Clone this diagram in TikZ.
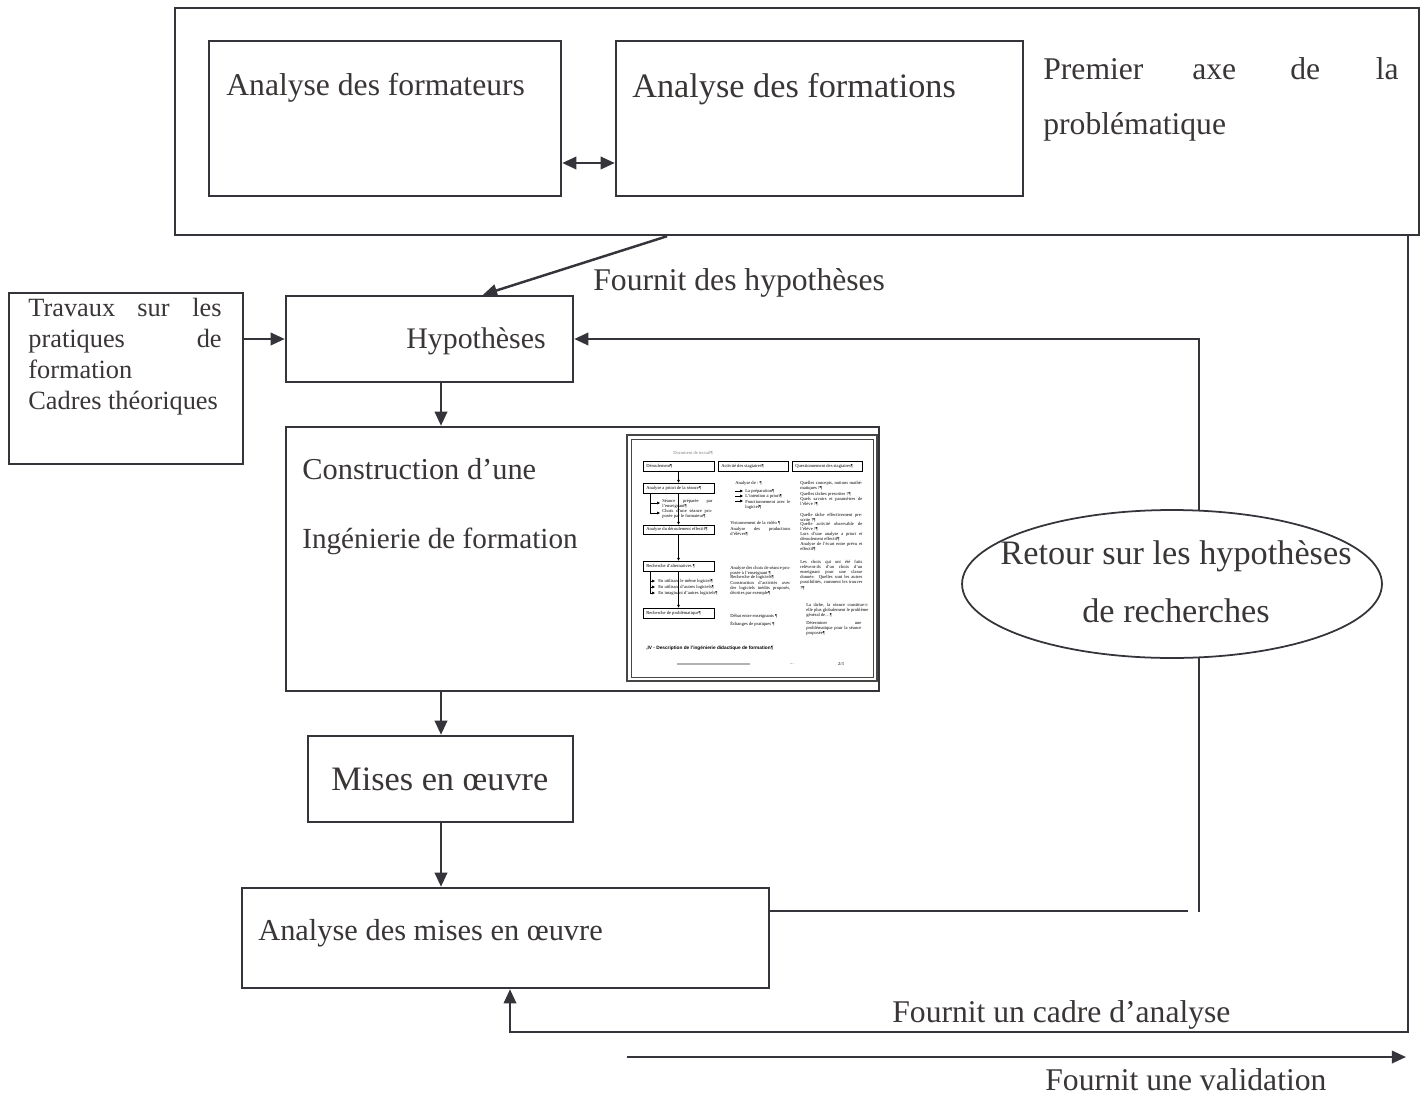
\documentclass[tikz,border=0pt]{standalone}
\usepackage{fontspec}
\setmainfont{Liberation Serif}
\newfontfamily\thsans{Liberation Sans}
\usetikzlibrary{arrows.meta,fit,shapes.geometric}
\definecolor{linec}{RGB}{52,52,58}
\definecolor{textc}{RGB}{58,54,54}
\definecolor{thumbline}{RGB}{70,70,70}
\tikzset{
  box/.style={draw=linec,line width=1.4pt,inner sep=0pt},
  arr/.style={draw=linec,line width=1.4pt,-{Triangle[length=8pt,width=7pt]}},
  conn/.style={draw=linec,line width=1.4pt},
  lbl/.style={anchor=base west,inner sep=0pt,text=textc},
  tinytxt/.style={anchor=north west,inner sep=0pt,font=\fontsize{2.6}{2.9}\selectfont,align=justify},
  tinyline/.style={anchor=west,inner sep=0pt,font=\fontsize{2.6}{2.9}\selectfont},
  tbox/.style={draw=black,line width=0.3pt,inner sep=0pt},
  tarr/.style={draw=black,line width=0.3pt,-{Triangle[length=1.6pt,width=1.4pt]}},
  tln/.style={draw=black,line width=0.3pt},
}
\begin{document}
\begin{tikzpicture}[x=0.02cm,y=-0.02cm]
\useasboundingbox (0,0) rectangle (1426,1095);
\fill[white] (0,0) rectangle (1426,1095);

% helper coordinates
\coordinate (x441) at (441,0);
\coordinate (x483) at (483,0);
\coordinate (x667) at (667,0);
\coordinate (x1408) at (1408,0);
\coordinate (x510) at (510,0);
\coordinate (y163) at (0,163);
\coordinate (y911) at (0,911);

% main boxes
\node[box,fit={(175,8) (1419,235)}] (outer) {};
\node[box,fit={(209,41) (561,196)}] (formateurs) {};
\node[box,fit={(616,41) (1023,196)}] (formations) {};
\node[box,fit={(9,293) (243,464)}] (travaux) {};
\node[box,fit={(286,296) (573,382)}] (hyp) {};
\node[box,fit={(286,427) (879,691)}] (constr) {};
\node[box,fit={(308,736) (573,822)}] (mises) {};
\node[box,fit={(242,888) (769,988)}] (anmises) {};

% feedback line behind the ellipse
\coordinate (fbend) at (1188,911);
\coordinate (fbbot) at (1199,912);
\coordinate (fbtop) at (1199,339);
\draw[conn] (anmises.east |- y911) -- (fbend);
\draw[arr] (fbbot) -- (fbtop) -- (hyp.east);

\node[draw=linec,line width=1pt,ellipse,fill=white,inner sep=0pt,
      minimum width=8.4cm,minimum height=2.96cm] (retour) at (1172,584) {};

% texts
\node[lbl,font=\fontsize{18}{20}\selectfont] (tformateurs) at (226,95) {Analyse des formateurs};
\node[lbl,font=\fontsize{19.5}{21}\selectfont] (tformations) at (632,97) {Analyse des formations};
\node[lbl,font=\fontsize{18}{20}\selectfont] (tpremier) at (1043,80) {Premier};
\node[lbl,font=\fontsize{18}{20}\selectfont] (taxe) at (1192,80) {axe};
\node[lbl,font=\fontsize{18}{20}\selectfont] (tde) at (1290,80) {de};
\node[lbl,anchor=base east,font=\fontsize{18}{20}\selectfont] (tla) at (1399,80) {la};
\node[lbl,font=\fontsize{18}{20}\selectfont] (tproblem) at (1043,134) {problématique};
\node[lbl,font=\fontsize{18}{20}\selectfont] (tfournit) at (593,290) {Fournit des hypothèses};

\node[lbl,font=\fontsize{15}{17}\selectfont] (ttrav1) at (28,316) {Travaux};
\node[lbl,font=\fontsize{15}{17}\selectfont] (ttrav2) at (137,316) {sur};
\node[lbl,anchor=base east,font=\fontsize{15}{17}\selectfont] (ttrav3) at (222,316) {les};
\node[lbl,font=\fontsize{15}{17}\selectfont] (ttrav4) at (28,347) {pratiques};
\node[lbl,anchor=base east,font=\fontsize{15}{17}\selectfont] (ttrav5) at (222,347) {de};
\node[lbl,font=\fontsize{15}{17}\selectfont] (ttrav6) at (28,378) {formation};
\node[lbl,font=\fontsize{15}{17}\selectfont] (ttrav7) at (28,409) {Cadres théoriques};

\node[lbl,font=\fontsize{17}{19}\selectfont] (thyp) at (406,348) {Hypothèses};
\node[lbl,font=\fontsize{17.3}{19}\selectfont] (tconstr1) at (302,479) {Construction d’une};
\node[lbl,font=\fontsize{16.6}{19}\selectfont] (tconstr2) at (302,548) {Ingénierie de formation};
\node[lbl,font=\fontsize{19.5}{21}\selectfont] (tmises) at (331,790) {Mises en œuvre};
\node[lbl,font=\fontsize{17.3}{19}\selectfont] (tanmises) at (258,940) {Analyse des mises en œuvre};
\node[lbl,anchor=base,font=\fontsize{19.5}{21}\selectfont] (tretour1) at (1176,564) {Retour sur les hypothèses};
\node[lbl,anchor=base,font=\fontsize{19.5}{21}\selectfont] (tretour2) at (1176,622) {de recherches};
\node[lbl,font=\fontsize{18}{20}\selectfont] (tcadre) at (892,1022) {Fournit un cadre d’analyse};
\node[lbl,font=\fontsize{18}{20}\selectfont] (tvalid) at (1045,1090) {Fournit une validation};

% connectors
\draw[linec,line width=1.4pt,{Triangle[length=8pt,width=7pt]}-{Triangle[length=8pt,width=7pt]}]
  (formateurs.east |- y163) -- (formations.west |- y163);
\draw[arr] (outer.south -| x667) -- (hyp.north -| x483);
\draw[arr] (travaux.east |- hyp.west) -- (hyp.west);
\draw[arr] (hyp.south -| x441) -- (constr.north -| x441);
\draw[arr] (constr.south -| x441) -- (mises.north -| x441);
\draw[arr] (mises.south -| x441) -- (anmises.north -| x441);
\coordinate (rcorner) at (1408,1032);
\draw[arr] (outer.south -| x1408) -- (rcorner) -| (anmises.south -| x510);
\coordinate (v1) at (627,1057);
\coordinate (v2) at (1406,1057);
\draw[arr] (v1) -- (v2);

% ---------- thumbnail of a document page ----------
\node[draw=thumbline,line width=1.3pt,fill=white,inner sep=0pt,fit={(627,435) (877,681)}] (thumb) {};
\node[draw=thumbline,line width=0.4pt,inner sep=0pt,fit={(631,439) (873,677)}] (thumbin) {};
\node[inner sep=0pt,text=gray,font=\fontsize{2.6}{2.9}\selectfont] (tdoc) at (693,453) {Document de travail¶};

\node[tbox,fit={(643,461) (714,471)}] (ta1) {};
\node[tbox,fit={(718,461) (788,471)}] (ta2) {};
\node[tbox,fit={(792,461) (862,471)}] (ta3) {};
\node[tinyline] (ta1t) at (646,466) {Déroulement¶};
\node[tinyline] (ta2t) at (721,466) {Activité des stagiaires¶};
\node[tinyline] (ta3t) at (795,466) {Questionnement des stagiaires¶};

\node[tbox,fit={(643,483) (714,493)}] (tb1) {};
\node[tinyline] (tb1t) at (646,488) {Analyse a priori de la séance¶};
\node[tbox,fit={(643,525) (714,534)}] (tc1) {};
\node[tinyline] (tc1t) at (646,529.5) {Analyse du déroulement effectif¶};
\node[tbox,fit={(643,561) (714,571)}] (td1) {};
\node[tinyline] (td1t) at (646,566) {Recherche d’alternatives ¶};
\node[tbox,fit={(643,608) (714,618)}] (te1) {};
\node[tinyline] (te1t) at (646,613) {Recherche de problématique¶};

\draw[tarr] (ta1.south) -- (tb1.north);
\draw[tarr] (tb1.south) -- (tc1.north);
\draw[tarr] (tc1.south) -- (td1.north);
\draw[tarr] (td1.south) -- (te1.north);

\coordinate (bb0) at (650,493);
\coordinate (bb1) at (650,503);
\coordinate (bb2) at (650,513);
\coordinate (bb1e) at (660,503);
\coordinate (bb2e) at (660,513);
\draw[tln] (bb0) -- (bb2);
\draw[tarr] (bb1) -- (bb1e);
\draw[tarr] (bb2) -- (bb2e);
\node[tinytxt,text width=1cm] (tsp1) at (662,499) {Séance préparée par l’enseignant¶};
\node[tinytxt,text width=1cm] (tsp2) at (662,509) {Choix d’une séance proposée par le formateur¶};

\coordinate (db0) at (650,571);
\coordinate (db1) at (650,581);
\coordinate (db2) at (650,587);
\coordinate (db3) at (650,593);
\coordinate (db1e) at (655,581);
\coordinate (db2e) at (655,587);
\coordinate (db3e) at (655,593);
\draw[tln] (db0) -- (db3);
\draw[tarr] (db1) -- (db1e);
\draw[tarr] (db2) -- (db2e);
\draw[tarr] (db3) -- (db3e);
\node[tinyline] (tal1) at (658,581) {En utilisant le même logiciel¶};
\node[tinyline] (tal2) at (658,587) {En utilisant d’autres logiciels¶};
\node[tinyline] (tal3) at (658,593) {En imaginant d’autres logiciels¶};

% middle column
\node[tinytxt] (tm1) at (735,481) {Analyse de : ¶};
\coordinate (ma1) at (735,491);
\coordinate (ma1e) at (743,491);
\coordinate (ma2) at (735,496);
\coordinate (ma2e) at (743,496);
\coordinate (ma3) at (735,501);
\coordinate (ma3e) at (743,501);
\draw[tarr] (ma1) -- (ma1e);
\draw[tarr] (ma2) -- (ma2e);
\draw[tarr] (ma3) -- (ma3e);
\node[tinyline] (tm2) at (745,491) {La préparation¶};
\node[tinyline] (tm3) at (745,496) {L’intention a priori¶};
\node[tinytxt,text width=0.9cm] (tm4) at (745,499.5) {Fonctionnement avec le logiciel¶};
\node[tinytxt] (tm5) at (730,521) {Visionnement de la vidéo ¶};
\node[tinytxt,text width=1.2cm] (tm6) at (730,527) {Analyse des productions d’élèves¶};
\node[tinytxt,text width=1.2cm] (tm7) at (730,566) {Analyse des choix de séance proposée à l’enseignant ¶};
\node[tinytxt] (tm8) at (730,575) {Recherche de logiciels¶};
\node[tinytxt,text width=1.2cm] (tm9) at (730,581) {Construction d’activités avec des logiciels inédits proposés, décrites par exemple¶};
\node[tinytxt] (tm10) at (730,614) {Débat entre enseignants ¶};
\node[tinytxt] (tm11) at (730,621) {Échanges de pratiques ¶};

% right column
\node[tinytxt,text width=1.24cm] (tr1) at (800,481) {Quelles concepts, notions mathématiques ?¶};
\node[tinytxt,text width=1.24cm] (tr2) at (800,492) {Quelles tâches prescrites ?¶};
\node[tinytxt,text width=1.24cm] (tr3) at (800,497) {Quels savoirs et paramètres de l’élève ?¶};
\node[tinytxt,text width=1.24cm] (tr4) at (800,513) {Quelle tâche effectivement prescrite ?¶};
\node[tinytxt,text width=1.24cm] (tr5) at (800,522) {Quelle activité observable de l’élève ?¶};
\node[tinytxt,text width=1.24cm] (tr6) at (800,532) {Lors d’une analyse a priori et déroulement effectif¶};
\node[tinytxt,text width=1.24cm] (tr7) at (800,542) {Analyse de l’écart entre prévu et effectif¶};
\node[tinytxt,text width=1.24cm] (tr8) at (800,560) {Les choix qui ont été faits relèvent-ils d’un choix d’un enseignant pour une classe donnée. Quelles sont les autres possibilités, comment les trouver ?¶};
\node[tinytxt,text width=1.24cm] (tr9) at (806,603) {La tâche, la séance constitue-t-elle plus globalement le problème général de…¶};
\node[tinytxt,text width=1.1cm] (tr10) at (806,621) {Déterminer une problématique pour la séance proposée¶};

\node[anchor=west,inner sep=0pt,font=\thsans\bfseries\fontsize{2.7}{3}\selectfont] (thead) at (646,648) {,IV - Description de l’ingénierie didactique de formation¶};
\coordinate (fb1) at (677,664);
\coordinate (fb2) at (750,664);
\draw[gray!60,line width=1.2pt] (fb1) -- (fb2);
\node[inner sep=0pt,font=\fontsize{2.6}{2.9}\selectfont] (tdots) at (792,664) {...};
\node[inner sep=0pt,font=\fontsize{2.6}{2.9}\selectfont] (tpage) at (841,664) {2/3};
\end{tikzpicture}
\end{document}
